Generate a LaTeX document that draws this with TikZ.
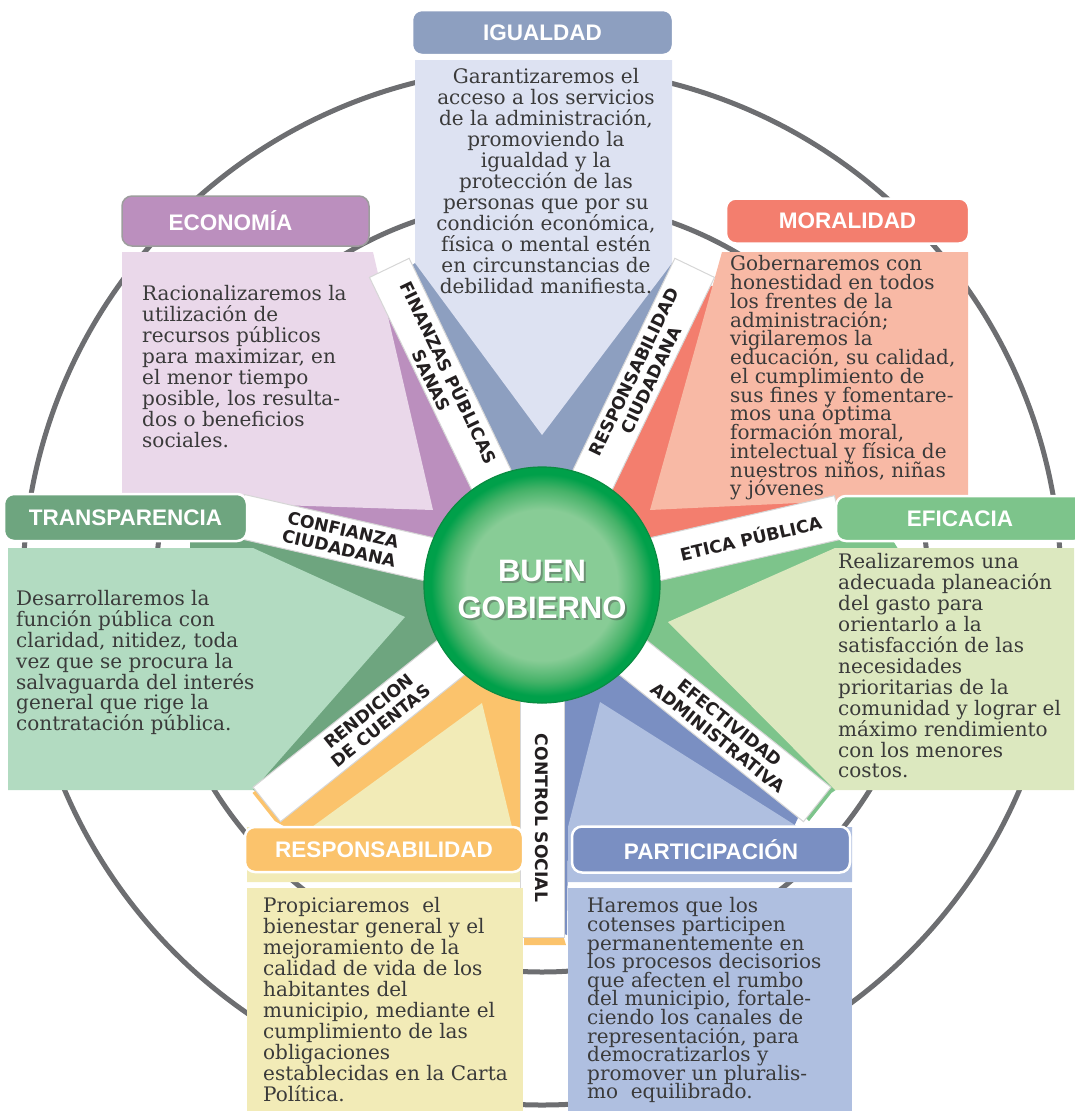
\documentclass[tikz,border=0pt]{standalone}
\usepackage{fontspec}
\setmainfont{DejaVu Serif}
\newfontfamily\headfont{Liberation Sans}
\newfontfamily\bandfont{DejaVu Sans}
\usetikzlibrary{positioning}
% keep the tight leading of the boxes even where lines touch
\setlength{\lineskiplimit}{-100pt}

\definecolor{ringGray}{HTML}{6D6E71}
\definecolor{bandEdge}{HTML}{D6D6D6}
\definecolor{labelInk}{HTML}{231F20}
\definecolor{bodyInk}{HTML}{3A3A3A}
\definecolor{igDark}{HTML}{8D9FC0}\definecolor{igLight}{HTML}{DDE2F2}
\definecolor{moDark}{HTML}{F37E6E}\definecolor{moLight}{HTML}{F8B9A5}
\definecolor{efDark}{HTML}{7DC48B}\definecolor{efLight}{HTML}{DCE8BF}
\definecolor{paDark}{HTML}{7A8FC2}\definecolor{paLight}{HTML}{AFBFE0}
\definecolor{reDark}{HTML}{FBC36C}\definecolor{reLight}{HTML}{F2EBB7}
\definecolor{trDark}{HTML}{6EA57F}\definecolor{trLight}{HTML}{B2DBC1}
\definecolor{ecDark}{HTML}{BB8FBE}\definecolor{ecLight}{HTML}{EAD8EA}
\definecolor{ecEdge}{HTML}{9D9D9D}
\definecolor{ballIn}{HTML}{88CC96}
\definecolor{ballMid}{HTML}{45B268}
\definecolor{ballOut}{HTML}{00A04A}
\definecolor{ballRim}{HTML}{0A8C42}

\pgfdeclareradialshading{ballshade}{\pgfpoint{0bp}{0bp}}{color(0bp)=(ballIn); color(16bp)=(ballIn); color(20.5bp)=(ballMid); color(23.5bp)=(ballOut); color(50bp)=(ballOut)}

\tikzset{
  ring/.style={draw=ringGray, line width=5},
  band/.style={rectangle, fill=white, draw=bandEdge, line width=1, minimum width=352, minimum height=44, inner sep=0},
  bandtext/.style={font=\bandfont\bfseries\fontsize{17.2}{19}\selectfont, text=labelInk, align=center, inner sep=0},
  head/.style={rectangle, rounded corners=10, draw=white, line width=2.5, text=white, font=\headfont\bfseries\fontsize{22.5}{24}\selectfont, inner sep=0},
  body/.style={text=bodyInk, align=left, inner sep=0, anchor=north west},
}

\begin{document}
\begin{tikzpicture}[x=1pt, y=-1pt]
\useasboundingbox (0,0) rectangle (1074,1111);

% rings
\draw[ring] (542,586) circle (519);
\draw[ring] (542,586) circle (386);

% dark wedges
\fill[igDark] (542,585) -- (394.5,278.7) -- (415,263) -- (672,263) -- (689.5,278.7) -- cycle;
\fill[moDark] (542,585) -- (689.5,278.7) -- (724,290) -- (900,490) -- (873.5,509.3) -- cycle;
\fill[efDark] (542,585) -- (873.5,509.3) -- (905,560) -- (850,780) -- (831.5,792.9) -- (809.1,821.1) -- cycle;
\fill[paDark] (542,585) -- (807.8,797) -- (790,835) -- (568,835) -- (567,935) -- (542,925) -- cycle;
\fill[trDark] (542,585) -- (210.5,509.3) -- (190,530) -- (190,548) -- (100,600) -- (100,780) -- (253,790) -- (276.2,797) -- cycle;
\fill[reDark] (542,585) -- (560,925) -- (566,945) -- (524,945) -- (524,860) -- (300,835) -- (274.9,821.1) -- (252.5,792.9) -- cycle;
\fill[ecDark] (542,585) -- (394.5,278.7) -- (380,290) -- (200,400) -- (150,497) -- (210.5,509.3) -- cycle;

% light boxes
\fill[igLight] (415,60) -- (672,60) -- (672,263) -- (542,435) -- (415,263) -- cycle;
\fill[moLight] (722,252) -- (968,252) -- (968,495) -- (650,510) -- cycle;
\fill[efLight] (835,548) -- (1074,548) -- (1074,790) -- (835,790) -- (668,622) -- cycle;
\fill[paLight] (600,702) -- (798,827) -- (852,827) -- (852,882) -- (568,882) -- (568,827) -- cycle;
\fill[reLight] (482,703) -- (512,827) -- (523,827) -- (523,882) -- (247,882) -- (247,827) -- (312,827) -- cycle;
\fill[trLight] (8,548) -- (253,548) -- (405,617) -- (253,790) -- (8,790) -- cycle;
\fill[ecLight] (122,252) -- (373,252) -- (433,510) -- (122,500) -- cycle;

% bands
\begin{scope}[shift={(542,585)}]
\node[band, rotate=-64.29] (finBand) at (-115.71:176) {};
\node[band, rotate=64.29] (ciuBand) at (-64.29:176) {};
\node[band, rotate=12.86, minimum width=305] (etiBand) at (-12.86:152.5) {};
\node[band, rotate=-38.57] (efeBand) at (38.57:176) {};
\node[band, rotate=-90] (conBand) at (90:176) {};
\node[band, rotate=38.57] (renBand) at (-218.57:176) {};
\node[band, rotate=-12.86, minimum width=310] (cfzBand) at (-167.14:155) {};

\node[bandtext, rotate=-64.29] (finText) at (-115.71:232) {FINANZAS PÚBLICAS\\SANAS};
\node[bandtext, rotate=64.29] (ciuText) at (-64.29:232) {RESPONSABILIDAD\\CIUDADANA};
\node[bandtext, rotate=12.86] (etiText) at (-12.86:214) {ETICA PÚBLICA};
\node[bandtext, rotate=-38.57] (efeText) at (38.57:233) {EFECTIVIDAD\\ADMINISTRATIVA};
\node[bandtext, rotate=-90] (conText) at (90:233) {CONTROL SOCIAL};
\node[bandtext, rotate=38.57] (renText) at (-218.57:214) {RENDICION\\DE CUENTAS};
\node[bandtext, rotate=-12.86] (cfzText) at (-167.14:206) {CONFIANZA\\CIUDADANA};
\end{scope}

% lower text boxes
\fill[paLight] (568,888) rectangle (852,1111);
\fill[reLight] (247,888) rectangle (523,1111);

% headers
\node[head, fill=igDark, minimum width=261, minimum height=45] (igHead) at (542.5,32.5) {IGUALDAD};
\node[head, fill=ecDark, draw=ecEdge, line width=1.5, minimum width=247, minimum height=50] (ecHead) at (245.5,221) {\hspace*{-30pt}ECONOMÍA};
\node[head, fill=moDark, minimum width=243, minimum height=45] (moHead) at (847.5,221) {MORALIDAD};
\node[head, fill=trDark, minimum width=243, minimum height=47] (trHead) at (125.5,517.5) {TRANSPARENCIA};
\node[head, fill=efDark, minimum width=248, minimum height=45] (efHead) at (960,518.5) {EFICACIA};
\node[head, fill=reDark, minimum width=278, minimum height=45] (reHead) at (384,849.5) {RESPONSABILIDAD};
\node[head, fill=paDark, minimum width=278, minimum height=46] (paHead) at (711,849.5) {PARTICIPACIÓN};

% texts
\node[body, anchor=north, align=center, font=\fontsize{20}{21}\selectfont] (igText) at (546,68.5)
  {Garantizaremos el\\acceso a los servicios\\de la administración,\\promoviendo la\\igualdad y la\\protección de las\\personas que por su\\condición económica,\\física o mental estén\\en circunstancias de\\debilidad manifiesta.};
\node[body, font=\fontsize{20}{21}\selectfont] (ecText) at (142,285.5)
  {Racionalizaremos la\\utilización de\\recursos públicos\\para maximizar, en\\el menor tiempo\\posible, los resulta-\\dos o beneficios\\sociales.};
\node[body, font=\fontsize{20}{18.75}\selectfont] (moText) at (730,255.5)
  {Gobernaremos con\\honestidad en todos\\los frentes de la\\administración;\\vigilaremos la\\educación, su calidad,\\el cumplimiento de\\sus fines y fomentare-\\mos una óptima\\formación moral,\\intelectual y física de\\nuestros niños, niñas\\y jóvenes};
\node[body, font=\fontsize{20}{20.9}\selectfont] (efText) at (838,553.5)
  {Realizaremos una\\adecuada planeación\\del gasto para\\orientarlo a la\\satisfacción de las\\necesidades\\prioritarias de la\\comunidad y lograr el\\máximo rendimiento\\con los menores\\costos.};
\node[body, font=\fontsize{20}{20.8}\selectfont] (trText) at (16,590.5)
  {Desarrollaremos la\\función pública con\\claridad, nitidez, toda\\vez que se procura la\\salvaguarda del interés\\general que rige la\\contratación pública.};
\node[body, font=\fontsize{20}{20.9}\selectfont] (reText) at (263,897.5)
  {Propiciaremos~ el\\bienestar general y el\\mejoramiento de la\\calidad de vida de los\\habitantes del\\municipio, mediante el\\cumplimiento de las\\obligaciones\\establecidas en la Carta\\Política.};
\node[body, font=\fontsize{20}{18.6}\selectfont] (paText) at (587,897.5)
  {Haremos que los\\cotenses participen\\permanentemente en\\los procesos decisorios\\que afecten el rumbo\\del municipio, fortale-\\ciendo los canales de\\representación, para\\democratizarlos y\\promover un pluralis-\\mo~ equilibrado.};

% center
\node[circle, minimum size=236, inner sep=0, shade, shading=ballshade, draw=ballRim, line width=1.2] (ball) at (542,585) {};
\node[font=\headfont\bfseries\fontsize{31}{37}\selectfont, align=center, text=black!70, opacity=0.45] (ballShadow) at (544,591) {BUEN\\GOBIERNO};
\node[font=\headfont\bfseries\fontsize{31}{37}\selectfont, align=center, text=white] (ballText) at (542,589) {BUEN\\GOBIERNO};
\end{tikzpicture}
\end{document}
